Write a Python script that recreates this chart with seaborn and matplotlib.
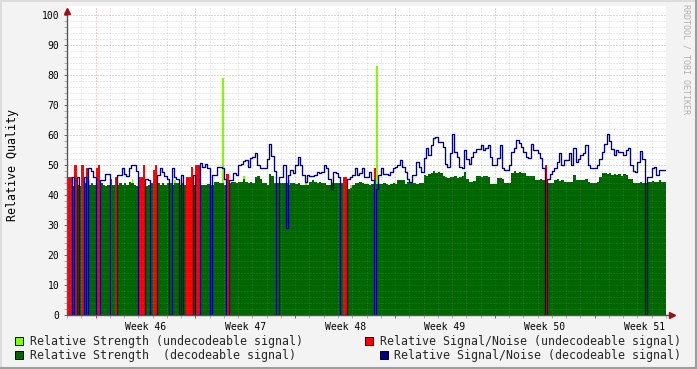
import numpy as np
import pandas as pd
import matplotlib
matplotlib.use('Agg')
import matplotlib.pyplot as plt
import seaborn as sns
from matplotlib.ticker import FixedLocator, NullFormatter
from matplotlib.patches import Rectangle
from matplotlib.lines import Line2D

# 4 hour steps, 6 per day, 42 days
strength = [
    43, 43.5, 43, 44, 43.5, 43,
    43.5, 44, 43, 43.5, 44, 43.5,
    43, 43.5, 44, 43.5, 43, 43.5,
    44, 43.5, 43, 43.5, 44, 43.5,
    44, 43.5, 44.5, 44, 43.5, 43,
    43.5, 44, 43.5, 43, 43.5, 44,
    43.5, 43, 44, 43.5, 44, 43.5,
    43.9, 44, 43.5, 44, 43.9, 43.5,
    43.9, 43.5, 43, 43.5, 43, 43.5,
    43.5, 43.5, 43.5, 43.2, 43.5, 43.8,
    43.5, 43.5, 44.4, 44.5, 43.9, 43.9,
    43.5, 43.5, 44, 44.2, 44.5, 44,
    44.2, 44.5, 45.5, 44.5, 44, 44.2,
    44, 46, 46.2, 45.5, 43.9, 43.9,
    43.3, 46.9, 46.5, 44, 43.9, 44,
    44, 43.9, 44, 43.5, 43.9, 44,
    43.8, 43.9, 43.5, 43.2, 43.5, 43.3,
    44.5, 45, 44.5, 44, 44.2, 44,
    44, 43.3, 43.3, 43.9, 43.9, 44,
    43.9, 43.9, 43.9, 43.5, 42, 42.5,
    43.5, 44, 44, 44.2, 44, 43.7,
    43.7, 43.5, 43.7, 43.5, 43.7, 43.7,
    43.7, 43.9, 43.7, 43.5, 43.7, 43.9,
    43.7, 45, 45, 45, 43.7, 44.5,
    44.5, 43.9, 43.9, 43.7, 43.9, 43.9,
    46.7, 46.5, 47, 47.5, 48, 47.5,
    47.8, 47.5, 46.5, 46, 45.8, 46,
    46, 46.3, 45.8, 46, 46.2, 47.8,
    45.5, 44.4, 44.4, 44.6, 46.3, 46.5,
    46, 46.5, 46.3, 46, 43.8, 43.8,
    43.8, 45.8, 45.8, 45.5, 44, 44,
    44, 47.5, 48, 47.5, 47.8, 47.2,
    47.5, 46.3, 46.3, 46.5, 46.3, 45,
    45, 45.2, 45, 45, 43.9, 43.9,
    43.9, 45, 45.2, 44.8, 45, 44.5,
    44.5, 44.5, 44.5, 46.7, 45, 45,
    45, 45, 45.2, 44.5, 43.9, 43.9,
    43.9, 44.5, 46, 47.5, 47.5, 47,
    47.2, 46.8, 47, 46.8, 47, 46.5,
    47, 46.8, 45.5, 45.5, 44, 44,
    44, 44.2, 43.9, 44, 44.5, 44.5,
    44.8, 44.5, 44.5, 45, 44.5, 44.5,
]

snr = [
    0, 0, 46, 0, 46, 0,
    0, 46, 0, 49, 48, 46,
    0, 0, 45, 45, 47, 47,
    0, 0, 0, 46.7, 46.7, 48.9,
    47, 46.5, 49, 50, 50, 48,
    0, 0, 0, 45.5, 45, 0,
    0, 0, 46.7, 48.9, 47.8, 46.5,
    45.5, 0, 48.9, 46.1, 45.5, 0,
    46.7, 0, 0, 0, 0, 46.7,
    0, 0, 50.6, 49.4, 50.2, 48.9,
    0, 46.7, 46.7, 49.4, 49.4, 48.9,
    45.5, 0, 45, 45, 47.5, 46.7,
    50, 50.5, 51.5, 51.7, 49.4, 52.2,
    52.8, 53.9, 50, 48.9, 48.9, 48.9,
    52, 56.9, 53, 48, 0, 46,
    46, 50, 29, 46.7, 48.3, 47.5,
    50, 52.8, 50, 46.7, 44.4, 46.7,
    46.4, 46.4, 46.7, 47.8, 47.2, 47.8,
    50, 48.9, 45.5, 42, 47.8, 47.2,
    46.1, 0, 0, 0, 45.5, 46,
    46.7, 48.9, 46.7, 47.2, 48.9, 46.1,
    46.1, 47.8, 45, 0, 42, 46.7,
    49, 47, 47, 46.7, 47.8, 48.9,
    49.5, 50, 51.7, 49.4, 47.8, 45.5,
    44.4, 46.7, 46.7, 51, 49.4, 47.8,
    52.2, 55.6, 53.3, 56.7, 58.9, 59.4,
    57.8, 57.8, 56, 50.5, 49.4, 54,
    60.2, 54.4, 52.8, 49.5, 49.1, 55,
    52, 50.5, 52.8, 54.4, 55.3, 55.3,
    56.7, 55, 55.6, 56.7, 52.8, 50,
    50, 52.2, 56.7, 49, 48.5, 48.5,
    50, 54.4, 55.6, 58.3, 57.2, 56.1,
    54.4, 52.8, 52.2, 57, 55, 55,
    53.9, 52.2, 48.9, 0, 45.5, 47,
    48, 49, 51, 54, 50, 51.7,
    51.7, 54, 50, 55.8, 51, 52,
    53.5, 54, 56.7, 50, 48.9, 48.9,
    48.9, 50, 52, 54.4, 57, 60.5,
    58, 55.5, 53.3, 55, 54.2, 54.2,
    53.3, 55, 55.6, 50, 48, 47.8,
    51, 54.7, 52, 0, 46, 46,
    49, 49.5, 46.7, 48.3, 48.3, 48.3,
]

# undecodeable signal/noise (step index, value)
red_steps = [0, 1, 3, 6, 8, 12, 13, 18, 20, 30, 31, 32, 36, 37, 50, 51, 52, 54, 55, 67, 116, 117, 129, 201]
red_vals = [46, 46, 50, 50, 49, 49, 50, 45.5, 46, 46, 46, 50, 48.3, 50, 46, 46, 49.4, 50, 50, 47, 46, 46, 49, 50]

# undecodeable strength (step index, value)
lime_steps = [9, 27, 45, 65, 74, 93, 100, 111, 119, 130]
lime_vals = [45, 45.5, 45, 79, 46.5, 45, 44.5, 44.5, 43.5, 83]

weeks = ['Week 46', 'Week 47', 'Week 48', 'Week 49', 'Week 50', 'Week 51']

steps_per_day = 6
step = 1 / steps_per_day
edges = np.arange(len(strength) + 1) * step
week_starts = 2 + 7 * np.arange(len(weeks))

LIME = '#80ff00'
GREEN = '#006600'
RED = '#ff0000'
NAVY = '#000090'

sns.set_theme(style='white')
plt.rcParams['font.family'] = ['DejaVu Sans Mono']

fig = plt.figure(figsize=(6.97, 3.69), dpi=100, facecolor='#f3f3f3')
ax = fig.add_axes([67 / 697, 54 / 369, 599 / 697, 309 / 369])
ax.set_facecolor('white')

ax.bar(np.array(lime_steps) * step + step * 0.15, lime_vals, width=step * 0.7, align='edge',
       color=LIME, linewidth=0, antialiased=False, zorder=1.2)
ax.stairs(strength, edges, fill=True, color=GREEN, linewidth=0, zorder=1.5)
ax.bar(np.array(red_steps) * step, red_vals, width=step, align='edge',
       color=RED, linewidth=0, zorder=1.8)

line_df = pd.DataFrame({'day': edges, 'snr': snr + [snr[-1]]})
sns.lineplot(data=line_df, x='day', y='snr', drawstyle='steps-post', color=NAVY,
             linewidth=0.95, estimator=None, legend=False, ax=ax, zorder=3)

ax.set_xlim(0, 42)
ax.set_ylim(0, 103)
ax.set_xlabel('')
ax.set_ylabel('Relative Quality', fontsize=8.4, color='black')
ax.yaxis.set_label_coords(-48 / 599, 0.485)

ax.set_axisbelow(False)
ax.xaxis.set_major_locator(FixedLocator(week_starts))
ax.xaxis.set_major_formatter(NullFormatter())
ax.xaxis.set_minor_locator(FixedLocator(np.arange(0, 43)))
ax.yaxis.set_major_locator(FixedLocator(np.arange(0, 101, 10)))
ax.yaxis.set_minor_locator(FixedLocator(np.arange(0, 101, 2)))
dots = (0, (1, 2))
ax.grid(which='major', color='#de3030', alpha=0.45, linewidth=0.72, linestyle=dots)
ax.grid(which='minor', color='#8f8f8f', alpha=0.35, linewidth=0.72, linestyle=dots)
ax.tick_params(which='major', length=2, width=0.7, color='#c04040',
               labelsize=7, labelcolor='black', pad=3.5, left=True, bottom=True)
ax.tick_params(which='minor', length=2, width=0.7, color='#b0b0b0', left=True, bottom=True)

sec = ax.secondary_xaxis('bottom')
sec.set_xticks(week_starts + 3.5, weeks)
sec.tick_params(length=0, pad=5, labelsize=7, labelcolor='black')
sec.spines['bottom'].set_visible(False)

for s in ['top', 'right', 'left', 'bottom']:
    ax.spines[s].set_visible(False)
axis_col = '#555555'
ytr = ax.get_yaxis_transform()
ax.plot([0, 0], [0, 101.5], transform=ytr, color=axis_col, lw=1, clip_on=False, zorder=5)
ax.plot([0, 1.01], [0, 0], transform=ax.transAxes, color=axis_col, lw=1, clip_on=False, zorder=5)
ax.plot([0], [101.5], marker='^', markersize=4, color='#a01010', transform=ytr, clip_on=False, zorder=6)
ax.plot([1.01], [0], marker='>', markersize=4, color='#a01010', transform=ax.transAxes, clip_on=False, zorder=6)

# legend rows
def swatch(x_px, y_px, color):
    fig.add_artist(Rectangle((x_px / 697, 1 - (y_px + 8) / 369), 8 / 697, 8 / 369,
                             transform=fig.transFigure, facecolor=color,
                             edgecolor='black', linewidth=0.7))

swatch(15, 337, LIME)
swatch(15, 351, GREEN)
swatch(365, 337, RED)
swatch(380, 351, NAVY)
fig.text(30 / 697, 1 - 341 / 369, 'Relative Strength (undecodeable signal)', fontsize=8.4, va='center', ha='left')
fig.text(30 / 697, 1 - 355 / 369, 'Relative Strength  (decodeable signal)', fontsize=8.4, va='center', ha='left')
fig.text(681 / 697, 1 - 341 / 369, 'Relative Signal/Noise (undecodeable signal)', fontsize=8.4, va='center', ha='right')
fig.text(681 / 697, 1 - 355 / 369, 'Relative Signal/Noise (decodeable signal)', fontsize=8.4, va='center', ha='right')

fig.text(686 / 697, 1 - 4 / 369, 'RRDTOOL / TOBI OETIKER', fontsize=6, rotation=270,
         ha='center', va='top', color='#b0b0b0')

# frame shading
fig.add_artist(Line2D([0, 1], [1 - 0.5 / 369] * 2, transform=fig.transFigure, color='#dcdcdc', lw=1.5))
fig.add_artist(Line2D([0.5 / 697] * 2, [0, 1], transform=fig.transFigure, color='#dcdcdc', lw=1.5))
fig.add_artist(Line2D([0, 1], [1 / 369] * 2, transform=fig.transFigure, color='#9e9e9e', lw=1.5))
fig.add_artist(Line2D([1 - 1 / 697] * 2, [0, 1], transform=fig.transFigure, color='#9e9e9e', lw=1.5))

fig.savefig('out.png', dpi=100, facecolor=fig.get_facecolor())
